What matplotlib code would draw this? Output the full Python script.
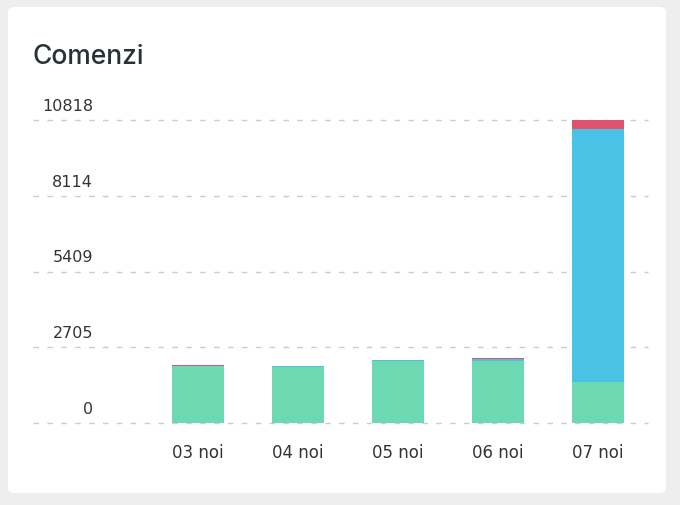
import matplotlib.pyplot as plt
from matplotlib.patches import FancyBboxPatch

# Data
days = ['03 noi', '04 noi', '05 noi', '06 noi', '07 noi']
green = [2035, 2000, 2213, 2230, 1464]
blue = [0, 20, 20, 60, 9030]
red = [30, 10, 30, 30, 324]
yticks = [0, 2705, 5409, 8114, 10818]

W, H = 680, 506
fig = plt.figure(figsize=(W / 100, H / 100), dpi=100)
fig.patch.set_facecolor('#eeeeee')
card = FancyBboxPatch((8 / W, 12 / H), 658 / W, 486 / H,
                      boxstyle='round,pad=0,rounding_size=0.01',
                      transform=fig.transFigure, facecolor='white',
                      edgecolor='none', zorder=-10)
fig.patches.append(card)

fig.text(33 / W, 1 - 57 / H, 'Comenzi', fontsize=19, color='#263238',
         va='center', ha='left', family='Inter', weight='medium')

ax = fig.add_axes([30 / W, (H - 424) / H, 620 / W, 303 / H])
ax.set_zorder(5)
ax.patch.set_alpha(0)
ax.set_xlim(-1.68, 4.52)
ax.set_ylim(0, 10818)
ax.axis('off')

x = range(len(days))
bottom2 = [g + b for g, b in zip(green, blue)]
ax.bar(x, green, width=0.52, color='#6cd9b2')
ax.bar(x, blue, width=0.52, bottom=green, color='#48c3e6')
ax.bar(x, red, width=0.52, bottom=bottom2, color='#e0536e')

for t in yticks:
    ax.plot([-1.65, 4.5], [t, t], ls=(0, (4, 6)), color='#cccccc', lw=1,
            zorder=0, clip_on=False)
    ax.text(-1.05, t + 250, str(t), ha='right', va='bottom', fontsize=11.5,
            color='#333333', family='DejaVu Sans')

for i, d in enumerate(days):
    ax.text(i, -700, d, ha='center', va='top', fontsize=12, color='#333333')

fig.savefig('out.png', dpi=100, facecolor=fig.get_facecolor())
